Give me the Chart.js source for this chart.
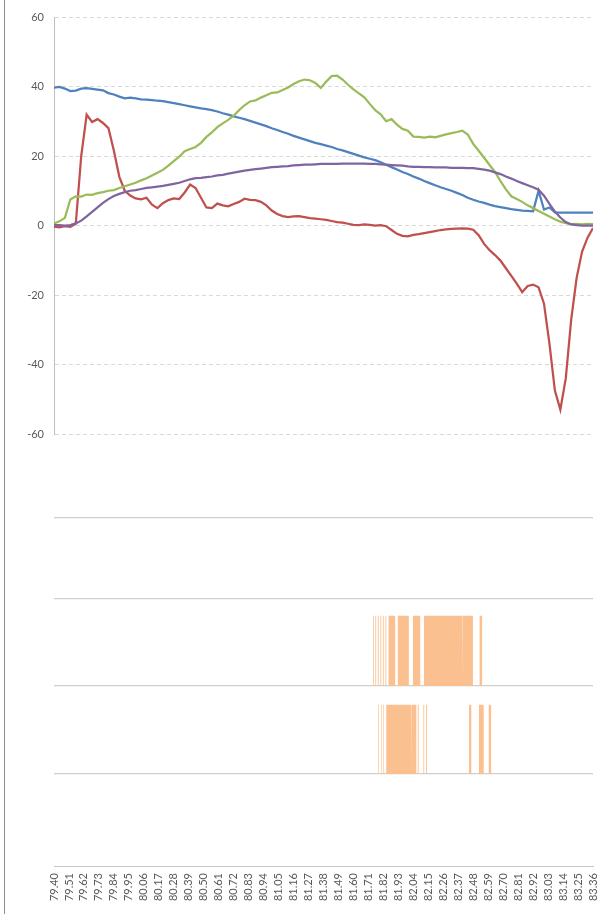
<!DOCTYPE html>
<html><head><meta charset="utf-8">
<script src="https://cdn.jsdelivr.net/npm/chart.js@4.4.1/dist/chart.umd.min.js"></script>
<style>
html,body{margin:0;padding:0;background:#fff;}
#wrap{position:relative;width:598px;height:914px;overflow:hidden;}
#frame{position:absolute;left:4px;top:0;width:1px;height:914px;background:#8e8e8e;}
canvas{position:absolute;left:0;top:0;}
</style></head><body>
<div id="wrap"><canvas id="c" width="598" height="914"></canvas><div id="frame"></div></div>
<script>
const times = [
 79.40,79.44,79.48,79.52,79.56,79.60,79.64,79.68,79.72,79.76,
 79.80,79.84,79.88,79.92,79.96,80.00,80.04,80.08,80.12,80.16,
 80.20,80.24,80.28,80.32,80.36,80.40,80.44,80.48,80.52,80.56,
 80.60,80.64,80.68,80.72,80.76,80.80,80.84,80.88,80.92,80.96,
 81.00,81.04,81.08,81.12,81.16,81.20,81.24,81.28,81.32,81.36,
 81.40,81.44,81.48,81.52,81.56,81.60,81.64,81.68,81.72,81.76,
 81.80,81.84,81.88,81.92,81.96,82.00,82.04,82.08,82.12,82.16,
 82.20,82.24,82.28,82.32,82.36,82.40,82.44,82.48,82.52,82.56,
 82.60,82.64,82.68,82.72,82.76,82.80,82.84,82.88,82.92,82.96,
 83.00,83.04,83.08,83.12,83.16,83.20,83.24,83.28,83.32,83.36];

const tickLabels = ['79.40','79.51','79.62','79.73','79.84','79.95','80.06','80.17','80.28','80.39',
 '80.50','80.61','80.72','80.83','80.94','81.05','81.16','81.27','81.38','81.49','81.60','81.71',
 '81.82','81.93','82.04','82.15','82.26','82.37','82.48','82.59','82.70','82.81','82.92','83.03',
 '83.14','83.25','83.36'];

const blueSeries = [
 39.7,39.9,39.4,38.7,38.8,39.4,39.5,39.3,39.1,38.9,
 38.1,37.7,37.1,36.6,36.8,36.6,36.3,36.2,36.1,35.9,
 35.8,35.5,35.2,34.9,34.6,34.3,34.0,33.7,33.5,33.2,
 32.8,32.3,31.9,31.4,31.0,30.6,30.1,29.6,29.1,28.6,
 28.0,27.5,26.9,26.4,25.8,25.3,24.8,24.3,23.8,23.4,
 23.0,22.6,22.0,21.6,21.1,20.6,20.1,19.6,19.2,18.8,
 18.2,17.5,16.8,16.1,15.4,14.8,14.1,13.5,12.8,12.2,
 11.6,11.0,10.5,10.0,9.4,8.8,8.0,7.4,6.9,6.5,
 6.0,5.6,5.3,5.0,4.7,4.5,4.3,4.2,4.1,10.0,
 4.6,5.2,3.8,3.7,3.7,3.7,3.7,3.7,3.7,3.7];

const redSeries = [
 -0.3,-0.5,-0.2,-0.4,0.5,20.0,31.9,29.8,30.6,29.5,
 28.0,21.5,14.0,10.0,8.6,7.8,7.5,8.0,6.0,5.0,
 6.4,7.3,7.8,7.6,9.5,11.8,10.8,8.0,5.2,5.0,
 6.3,5.8,5.5,6.2,6.8,7.7,7.4,7.3,6.8,5.8,
 4.3,3.3,2.7,2.4,2.6,2.7,2.4,2.1,2.0,1.8,
 1.6,1.3,1.0,0.8,0.5,0.2,0.1,0.3,0.2,0.0,
 0.1,-0.2,-1.3,-2.4,-3.0,-3.1,-2.7,-2.5,-2.2,-1.9,
 -1.6,-1.3,-1.1,-1.0,-0.9,-0.8,-0.9,-1.2,-2.8,-5.3,
 -7.1,-8.5,-10.1,-12.3,-14.5,-16.7,-19.2,-17.4,-17.0,-17.8,
 -22.5,-34.0,-47.5,-53.0,-44.0,-27.0,-15.0,-7.5,-3.5,-0.7];

const greenSeries = [
 0.6,1.2,2.2,7.5,8.4,8.3,8.9,8.8,9.3,9.6,
 10.0,10.2,10.8,11.3,11.8,12.3,13.0,13.6,14.4,15.2,
 16.0,17.2,18.5,19.8,21.4,22.0,22.6,23.8,25.5,26.8,
 28.3,29.4,30.4,31.6,33.2,34.6,35.7,36.0,36.8,37.5,
 38.2,38.3,39.0,39.7,40.7,41.5,42.0,41.8,41.0,39.6,
 41.4,43.0,43.1,42.0,40.5,39.2,38.0,36.9,35.0,33.2,
 32.0,30.0,30.6,29.0,27.8,27.3,25.6,25.5,25.3,25.6,
 25.4,25.8,26.2,26.6,26.9,27.3,26.2,23.5,21.5,19.5,
 17.4,15.4,12.8,10.4,8.4,7.6,6.8,5.8,5.0,4.2,
 3.4,2.6,1.8,1.1,0.7,0.4,0.5,0.3,0.5,0.4];

const purpleSeries = [
 0.1,0.1,0.0,0.1,0.6,1.4,2.6,3.9,5.2,6.5,
 7.6,8.5,9.1,9.6,10.0,10.2,10.5,10.8,11.0,11.2,
 11.4,11.7,12.0,12.3,12.8,13.3,13.6,13.7,13.9,14.1,
 14.4,14.6,14.9,15.2,15.5,15.8,16.0,16.2,16.4,16.6,
 16.8,16.9,17.0,17.1,17.3,17.4,17.5,17.5,17.6,17.7,
 17.7,17.7,17.7,17.8,17.8,17.8,17.8,17.8,17.7,17.7,
 17.6,17.5,17.4,17.3,17.2,17.0,16.9,16.9,16.8,16.8,
 16.7,16.7,16.7,16.6,16.6,16.6,16.5,16.5,16.3,16.1,
 15.8,15.3,14.8,14.1,13.5,12.8,12.2,11.6,11.0,10.3,
 8.6,6.2,4.0,2.3,1.0,0.3,0.1,0.0,0.0,0.0];

// time spans where each flag channel is on
const upperBandSpans = [
 [81.743,81.749],[81.761,81.767],[81.779,81.785],[81.798,81.804],[81.816,81.822],[81.835,81.841],
 [81.858,81.907],[81.926,82.007],[82.037,82.091],[82.118,82.400],[82.404,82.478],[82.527,82.547]];
const lowerBandSpans = [
 [81.766,81.771],[81.783,81.788],[81.802,81.807],[81.820,81.825],[81.841,82.023],[82.027,82.062],
 [82.072,82.079],[82.097,82.103],[82.114,82.120],[82.134,82.141],[82.276,82.279],[82.449,82.466],
 [82.522,82.557],[82.594,82.613]];

const FONT = {family:'Lato, "Open Sans", sans-serif', size:11};
const LABEL = '#595959';
const AXW = 54;

const linePts = arr => times.map((t,i)=>({x:t,y:arr[i]}));
const spanPts = spans => {
  const p=[];
  spans.forEach(([a,b])=>{ p.push({x:a,y:0},{x:a,y:1},{x:b,y:1},{x:b,y:0}); });
  return p;
};
const lineDs = (data,color,order) => ({type:'line', data:linePts(data), borderColor:color, backgroundColor:color,
  borderWidth:2.25, pointRadius:0, tension:0, fill:false, yAxisID:'yLine', order});
const bandDs = (spans,axis,order) => ({type:'line', data:spanPts(spans), borderWidth:0, borderColor:'rgba(0,0,0,0)',
  backgroundColor:'#FAC090', pointRadius:0, tension:0, fill:'origin', yAxisID:axis, order});

const fixW = s => { s.width = AXW; };
const bandAxis = (weight,max) => ({
  type:'linear', position:'left', stack:'v', stackWeight:weight, min:0, max:max, display:true,
  grid:{color:'#cfcfcf', lineWidth:1.3, drawTicks:false},
  border:{display:false}, ticks:{display:false},
  afterBuildTicks: s => { s.ticks = [{value:s.max}]; },
  afterFit: fixW
});

new Chart(document.getElementById('c'), {
  type:'line',
  data:{ datasets:[
    lineDs(purpleSeries,'#8064A2',1),
    lineDs(greenSeries,'#9BBB59',2),
    lineDs(redSeries,'#C0504D',3),
    lineDs(blueSeries,'#4F81BD',4),
    bandDs(upperBandSpans,'yB2',5),
    bandDs(lowerBandSpans,'yB3',6)
  ]},
  options:{
    responsive:false, animation:false, devicePixelRatio:1,
    layout:{padding:{left:0,right:0,top:17,bottom:0}},
    plugins:{legend:{display:false}, tooltip:{enabled:false}},
    scales:{
      x:{type:'linear', min:79.40, max:83.36, position:'bottom',
        grid:{display:false, drawTicks:false},
        border:{display:true, color:'#c8c8c8', width:1},
        ticks:{autoSkip:false, maxRotation:90, minRotation:90, padding:7, color:LABEL, font:FONT,
          callback:(v,i)=>tickLabels[i]},
        afterBuildTicks: s => { s.ticks = tickLabels.map(l=>({value:parseFloat(l)})); },
        afterFit: s => { s.height = 48; s.paddingLeft = 0; s.paddingRight = 5; }
      },
      yB4: bandAxis(92,1.25),
      yB3: bandAxis(88,1.27),
      yB2: bandAxis(87,1.24),
      yB1: bandAxis(81,1.25),
      yGap:{type:'linear', position:'left', stack:'v', stackWeight:84, min:0, max:1, display:true,
        grid:{display:false, drawTicks:false}, border:{display:false}, ticks:{display:false}, afterFit:fixW},
      yLine:{type:'linear', position:'left', stack:'v', stackWeight:417, min:-60, max:60,
        ticks:{stepSize:20, color:LABEL, font:FONT, padding:10},
        grid:{color:'#d9d9d9', lineWidth:1, drawTicks:false},
        border:{display:true, dash:[4,3], color:'#bfbfbf', width:1},
        afterFit: fixW
      }
    }
  }
});
</script>
</body></html>
